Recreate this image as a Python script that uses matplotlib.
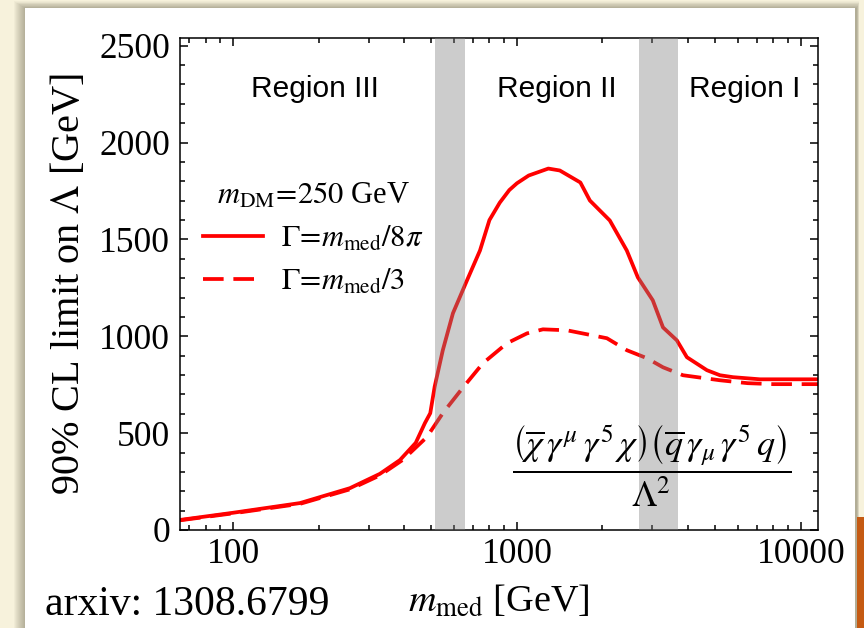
import numpy as np
import matplotlib
import matplotlib.pyplot as plt
from matplotlib.patches import Rectangle
from matplotlib.ticker import LogLocator, MultipleLocator, NullFormatter, FixedLocator

matplotlib.use('Agg')

plt.rcParams['font.family'] = ['Liberation Serif', 'DejaVu Serif']
plt.rcParams['mathtext.fontset'] = 'stix'

# mediator mass [GeV] and 90% CL limit on Lambda [GeV]
m_narrow = [65, 100, 172, 258, 329, 387, 440, 474, 495, 513, 548, 595, 667, 741,
            800, 870, 940, 1000, 1100, 1290, 1416, 1673, 1807, 2124, 2438, 2667, 3010,
            3270, 3660, 3970, 4670, 5190, 5770, 7180, 11500]
lam_narrow = [52, 89, 139, 216, 290, 361, 450, 552, 603, 740, 928, 1119, 1289, 1443,
              1600, 1690, 1755, 1790, 1830, 1866, 1856, 1794, 1701, 1598, 1443, 1304, 1186,
              1046, 979, 892, 825, 799, 789, 778, 778]

m_wide = [65, 100, 172, 258, 329, 396, 481, 548, 645, 759, 922, 1085, 1235, 1500,
          2075, 2440, 2870, 3270, 3845, 5190, 6500, 8000, 11500]
lam_wide = [50, 86, 135, 210, 282, 362, 479, 603, 735, 861, 964, 1015, 1036, 1031,
            990, 928, 887, 840, 799, 773, 758, 753, 753]

# transition bands between regions
bands = [(515, 655), (2700, 3700)]
regions = ['Region III', 'Region II', 'Region I']
region_x = [194, 1384, 6350]

fig = plt.figure(figsize=(8.64, 6.28), dpi=100)
fig.patch.set_facecolor('#f7f2dc')

W, H = 864.0, 628.0


def px_rect(x0, y0, x1, y1, **kw):
    # rectangle given in pixel coords (origin top-left), kept behind the axes
    r = Rectangle((x0 / W, 1 - y1 / H), (x1 - x0) / W, (y1 - y0) / H,
                  transform=fig.transFigure, zorder=-5, **kw)
    fig.patches.append(r)


# slide card with soft shadow
for i in range(12):
    px_rect(25 - i, 8 - i * 0.6, 857 + i * 0.2, 640, facecolor='#5a553c',
            edgecolor='none', alpha=0.045)
px_rect(857, 517, 870, 640, facecolor='#c55a12', edgecolor='none')
px_rect(25, 8, 855, 640, facecolor='white', edgecolor='none')

ax = fig.add_axes([180 / W, 1 - 530 / H, 638 / W, 492 / H])
ax.set_facecolor('none')

ax.plot(m_narrow, lam_narrow, color='#ff0000', lw=2.7, label=r'$\Gamma\!=\!m_{\rm med}/8\pi$')
ax.plot(m_wide, lam_wide, color='#ff0000', lw=2.7, dashes=(5.5, 2.6),
        label=r'$\Gamma\!=\!m_{\rm med}/3$')

for lo, hi in bands:
    ax.axvspan(lo, hi, color='0.5', alpha=0.4, lw=0, zorder=3)

ax.set_xscale('log')
ax.set_xlim(65, 11500)
ax.set_ylim(0, 2540)

ax.xaxis.set_major_locator(FixedLocator([100, 1000, 10000]))
ax.xaxis.set_minor_locator(LogLocator(base=10, subs=np.arange(2, 10)))
ax.xaxis.set_minor_formatter(NullFormatter())
ax.set_xticklabels(['100', '1000', '10000'])
ax.yaxis.set_major_locator(MultipleLocator(500))
ax.yaxis.set_minor_locator(MultipleLocator(100))

ax.tick_params(which='both', direction='in', top=True, right=True, width=1.1, colors='black')
ax.tick_params(which='major', length=6, labelsize=25.5)
ax.tick_params(which='minor', length=3.5)
ax.tick_params(axis='y', pad=7)
ax.tick_params(axis='x', pad=6)
for s in ax.spines.values():
    s.set_linewidth(1.1)

ax.set_ylabel(r'90% CL limit on $\Lambda$ [GeV]', fontsize=29, labelpad=8)
ax.set_xlabel(r'$m_{\rm med}$ [GeV]', fontsize=27.5, labelpad=9)

for name, x in zip(regions, region_x):
    ax.text(x, 2278, name, ha='center', va='center', fontsize=21.5,
            family=['Liberation Sans', 'DejaVu Sans'])

leg = ax.legend(loc='upper left', bbox_to_anchor=(0.036, 0.708), frameon=False,
                fontsize=22, title=r'$m_{\rm DM}\!=\!250$ GeV', title_fontsize=22,
                handlelength=1.95, handletextpad=0.6, labelspacing=0.45, borderpad=0,
                borderaxespad=0)

ax.text(0.74, 0.13,
        r'$\dfrac{\left(\overline{\chi}\,\gamma^{\mu}\,\gamma^{5}\,\chi\right)\left(\overline{q}\,\gamma_{\mu}\,\gamma^{5}\,q\right)}{\Lambda^{2}}$',
        transform=ax.transAxes, ha='center', va='center', fontsize=26, zorder=5)

fig.text(45 / W, 1 - 605 / H, 'arxiv: 1308.6799', fontsize=30, ha='left', va='center')

fig.savefig('out.png', dpi=100, facecolor=fig.get_facecolor())
